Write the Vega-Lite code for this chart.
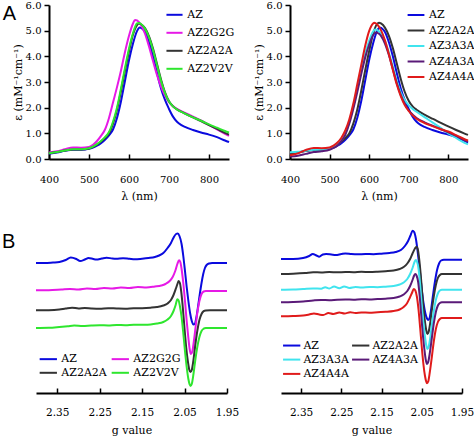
{
  "$schema": "https://vega.github.io/schema/vega-lite/v6.json",
  "padding": {"left": -17, "top": 0, "right": 0, "bottom": 0},
  "background": "white",
  "spacing": 23,
  "config": {
    "view": {"stroke": null},
    "font": "DejaVu Serif",
    "line": {"strokeWidth": 2, "interpolate": "monotone"},
    "axis": {"domainColor": "#000", "domainWidth": 2, "tickColor": "#000", "tickWidth": 1.5, "labelColor": "#000", "titleColor": "#000", "labelFont": "DejaVu Serif", "titleFont": "DejaVu Serif", "labelFontSize": 10, "titleFontSize": 11, "titleFontWeight": "normal", "grid": false, "labelFlush": false},
    "axisX": {"tickSize": -5, "labelPadding": 20.3, "titlePadding": 6.5},
    "axisY": {"tickSize": 5, "labelPadding": 3, "titlePadding": 2},
    "legend": {"title": null, "padding": 0, "labelFont": "DejaVu Serif", "labelFontSize": 11, "labelColor": "#000", "symbolStrokeWidth": 2.5, "symbolSize": 49, "orient": "none"}
  },
  "resolve": {"scale": {"color": "independent"}, "legend": {"color": "independent"}},
  "datasets": {
    "uvA": [
      {"series":"AZ","nm":400,"eps":0.2},{"series":"AZ","nm":420,"eps":0.25},{"series":"AZ","nm":440,"eps":0.32},{"series":"AZ","nm":460,"eps":0.36},{"series":"AZ","nm":480,"eps":0.36},{"series":"AZ","nm":500,"eps":0.4},{"series":"AZ","nm":510,"eps":0.45},{"series":"AZ","nm":520,"eps":0.52},{"series":"AZ","nm":530,"eps":0.62},{"series":"AZ","nm":540,"eps":0.75},{"series":"AZ","nm":550,"eps":0.92},{"series":"AZ","nm":560,"eps":1.15},{"series":"AZ","nm":570,"eps":1.6},{"series":"AZ","nm":580,"eps":2.25},{"series":"AZ","nm":590,"eps":3.05},{"series":"AZ","nm":600,"eps":3.85},{"series":"AZ","nm":610,"eps":4.5},{"series":"AZ","nm":620,"eps":4.98},{"series":"AZ","nm":627,"eps":5.12},{"series":"AZ","nm":635,"eps":5.05},{"series":"AZ","nm":640,"eps":4.95},{"series":"AZ","nm":650,"eps":4.55},{"series":"AZ","nm":660,"eps":4.0},{"series":"AZ","nm":670,"eps":3.35},{"series":"AZ","nm":680,"eps":2.75},{"series":"AZ","nm":690,"eps":2.3},{"series":"AZ","nm":700,"eps":1.95},{"series":"AZ","nm":710,"eps":1.65},{"series":"AZ","nm":720,"eps":1.45},{"series":"AZ","nm":730,"eps":1.33},{"series":"AZ","nm":740,"eps":1.25},{"series":"AZ","nm":760,"eps":1.13},{"series":"AZ","nm":780,"eps":1.03},{"series":"AZ","nm":800,"eps":0.95},{"series":"AZ","nm":820,"eps":0.85},{"series":"AZ","nm":840,"eps":0.72},{"series":"AZ","nm":850,"eps":0.66},
      {"series":"AZ2G2G","nm":400,"eps":0.25},{"series":"AZ2G2G","nm":420,"eps":0.3},{"series":"AZ2G2G","nm":440,"eps":0.38},{"series":"AZ2G2G","nm":460,"eps":0.45},{"series":"AZ2G2G","nm":480,"eps":0.44},{"series":"AZ2G2G","nm":500,"eps":0.47},{"series":"AZ2G2G","nm":510,"eps":0.55},{"series":"AZ2G2G","nm":520,"eps":0.7},{"series":"AZ2G2G","nm":530,"eps":0.9},{"series":"AZ2G2G","nm":540,"eps":1.15},{"series":"AZ2G2G","nm":550,"eps":1.6},{"series":"AZ2G2G","nm":560,"eps":2.2},{"series":"AZ2G2G","nm":570,"eps":2.8},{"series":"AZ2G2G","nm":580,"eps":3.45},{"series":"AZ2G2G","nm":590,"eps":4.17},{"series":"AZ2G2G","nm":600,"eps":4.8},{"series":"AZ2G2G","nm":610,"eps":5.28},{"series":"AZ2G2G","nm":615,"eps":5.42},{"series":"AZ2G2G","nm":620,"eps":5.4},{"series":"AZ2G2G","nm":630,"eps":5.22},{"series":"AZ2G2G","nm":640,"eps":4.88},{"series":"AZ2G2G","nm":650,"eps":4.38},{"series":"AZ2G2G","nm":660,"eps":3.82},{"series":"AZ2G2G","nm":670,"eps":3.27},{"series":"AZ2G2G","nm":680,"eps":2.82},{"series":"AZ2G2G","nm":690,"eps":2.47},{"series":"AZ2G2G","nm":700,"eps":2.22},{"series":"AZ2G2G","nm":710,"eps":2.06},{"series":"AZ2G2G","nm":720,"eps":1.95},{"series":"AZ2G2G","nm":740,"eps":1.8},{"series":"AZ2G2G","nm":760,"eps":1.65},{"series":"AZ2G2G","nm":780,"eps":1.5},{"series":"AZ2G2G","nm":800,"eps":1.33},{"series":"AZ2G2G","nm":820,"eps":1.15},{"series":"AZ2G2G","nm":840,"eps":0.98},{"series":"AZ2G2G","nm":850,"eps":0.9},
      {"series":"AZ2A2A","nm":400,"eps":0.22},{"series":"AZ2A2A","nm":420,"eps":0.27},{"series":"AZ2A2A","nm":440,"eps":0.33},{"series":"AZ2A2A","nm":460,"eps":0.37},{"series":"AZ2A2A","nm":480,"eps":0.37},{"series":"AZ2A2A","nm":500,"eps":0.41},{"series":"AZ2A2A","nm":510,"eps":0.47},{"series":"AZ2A2A","nm":520,"eps":0.56},{"series":"AZ2A2A","nm":530,"eps":0.68},{"series":"AZ2A2A","nm":540,"eps":0.82},{"series":"AZ2A2A","nm":550,"eps":1.0},{"series":"AZ2A2A","nm":560,"eps":1.38},{"series":"AZ2A2A","nm":570,"eps":1.92},{"series":"AZ2A2A","nm":580,"eps":2.65},{"series":"AZ2A2A","nm":590,"eps":3.45},{"series":"AZ2A2A","nm":600,"eps":4.2},{"series":"AZ2A2A","nm":610,"eps":4.85},{"series":"AZ2A2A","nm":620,"eps":5.22},{"series":"AZ2A2A","nm":625,"eps":5.28},{"series":"AZ2A2A","nm":630,"eps":5.25},{"series":"AZ2A2A","nm":640,"eps":5.1},{"series":"AZ2A2A","nm":650,"eps":4.78},{"series":"AZ2A2A","nm":660,"eps":4.3},{"series":"AZ2A2A","nm":670,"eps":3.7},{"series":"AZ2A2A","nm":680,"eps":3.1},{"series":"AZ2A2A","nm":690,"eps":2.6},{"series":"AZ2A2A","nm":700,"eps":2.25},{"series":"AZ2A2A","nm":710,"eps":2.05},{"series":"AZ2A2A","nm":720,"eps":1.93},{"series":"AZ2A2A","nm":740,"eps":1.77},{"series":"AZ2A2A","nm":760,"eps":1.62},{"series":"AZ2A2A","nm":780,"eps":1.48},{"series":"AZ2A2A","nm":800,"eps":1.32},{"series":"AZ2A2A","nm":820,"eps":1.17},{"series":"AZ2A2A","nm":840,"eps":1.02},{"series":"AZ2A2A","nm":850,"eps":0.95},
      {"series":"AZ2V2V","nm":400,"eps":0.22},{"series":"AZ2V2V","nm":420,"eps":0.27},{"series":"AZ2V2V","nm":440,"eps":0.33},{"series":"AZ2V2V","nm":460,"eps":0.38},{"series":"AZ2V2V","nm":480,"eps":0.38},{"series":"AZ2V2V","nm":500,"eps":0.42},{"series":"AZ2V2V","nm":510,"eps":0.48},{"series":"AZ2V2V","nm":520,"eps":0.58},{"series":"AZ2V2V","nm":530,"eps":0.7},{"series":"AZ2V2V","nm":540,"eps":0.85},{"series":"AZ2V2V","nm":550,"eps":1.05},{"series":"AZ2V2V","nm":560,"eps":1.45},{"series":"AZ2V2V","nm":570,"eps":2.0},{"series":"AZ2V2V","nm":580,"eps":2.75},{"series":"AZ2V2V","nm":590,"eps":3.55},{"series":"AZ2V2V","nm":600,"eps":4.3},{"series":"AZ2V2V","nm":610,"eps":4.9},{"series":"AZ2V2V","nm":620,"eps":5.28},{"series":"AZ2V2V","nm":625,"eps":5.3},{"series":"AZ2V2V","nm":630,"eps":5.26},{"series":"AZ2V2V","nm":640,"eps":5.08},{"series":"AZ2V2V","nm":650,"eps":4.74},{"series":"AZ2V2V","nm":660,"eps":4.25},{"series":"AZ2V2V","nm":670,"eps":3.65},{"series":"AZ2V2V","nm":680,"eps":3.05},{"series":"AZ2V2V","nm":690,"eps":2.57},{"series":"AZ2V2V","nm":700,"eps":2.24},{"series":"AZ2V2V","nm":710,"eps":2.05},{"series":"AZ2V2V","nm":720,"eps":1.93},{"series":"AZ2V2V","nm":740,"eps":1.77},{"series":"AZ2V2V","nm":760,"eps":1.62},{"series":"AZ2V2V","nm":780,"eps":1.49},{"series":"AZ2V2V","nm":800,"eps":1.35},{"series":"AZ2V2V","nm":820,"eps":1.22},{"series":"AZ2V2V","nm":840,"eps":1.09},{"series":"AZ2V2V","nm":850,"eps":1.03}
    ],
    "uvB": [
      {"series":"AZ","nm":400,"eps":0.2},{"series":"AZ","nm":420,"eps":0.25},{"series":"AZ","nm":440,"eps":0.32},{"series":"AZ","nm":460,"eps":0.36},{"series":"AZ","nm":480,"eps":0.36},{"series":"AZ","nm":500,"eps":0.4},{"series":"AZ","nm":510,"eps":0.45},{"series":"AZ","nm":520,"eps":0.52},{"series":"AZ","nm":530,"eps":0.62},{"series":"AZ","nm":540,"eps":0.75},{"series":"AZ","nm":550,"eps":0.92},{"series":"AZ","nm":560,"eps":1.15},{"series":"AZ","nm":570,"eps":1.6},{"series":"AZ","nm":580,"eps":2.25},{"series":"AZ","nm":590,"eps":3.05},{"series":"AZ","nm":600,"eps":3.85},{"series":"AZ","nm":610,"eps":4.5},{"series":"AZ","nm":620,"eps":4.98},{"series":"AZ","nm":627,"eps":5.12},{"series":"AZ","nm":635,"eps":5.05},{"series":"AZ","nm":640,"eps":4.95},{"series":"AZ","nm":650,"eps":4.55},{"series":"AZ","nm":660,"eps":4.0},{"series":"AZ","nm":670,"eps":3.35},{"series":"AZ","nm":680,"eps":2.75},{"series":"AZ","nm":690,"eps":2.3},{"series":"AZ","nm":700,"eps":1.95},{"series":"AZ","nm":710,"eps":1.65},{"series":"AZ","nm":720,"eps":1.45},{"series":"AZ","nm":730,"eps":1.33},{"series":"AZ","nm":740,"eps":1.25},{"series":"AZ","nm":760,"eps":1.13},{"series":"AZ","nm":780,"eps":1.03},{"series":"AZ","nm":800,"eps":0.95},{"series":"AZ","nm":820,"eps":0.85},{"series":"AZ","nm":840,"eps":0.72},{"series":"AZ","nm":850,"eps":0.64},
      {"series":"AZ2A2A","nm":400,"eps":0.2},{"series":"AZ2A2A","nm":420,"eps":0.25},{"series":"AZ2A2A","nm":440,"eps":0.31},{"series":"AZ2A2A","nm":460,"eps":0.35},{"series":"AZ2A2A","nm":480,"eps":0.36},{"series":"AZ2A2A","nm":500,"eps":0.41},{"series":"AZ2A2A","nm":510,"eps":0.47},{"series":"AZ2A2A","nm":520,"eps":0.56},{"series":"AZ2A2A","nm":530,"eps":0.68},{"series":"AZ2A2A","nm":540,"eps":0.82},{"series":"AZ2A2A","nm":550,"eps":1.0},{"series":"AZ2A2A","nm":560,"eps":1.38},{"series":"AZ2A2A","nm":570,"eps":1.92},{"series":"AZ2A2A","nm":580,"eps":2.65},{"series":"AZ2A2A","nm":590,"eps":3.45},{"series":"AZ2A2A","nm":600,"eps":4.2},{"series":"AZ2A2A","nm":610,"eps":4.87},{"series":"AZ2A2A","nm":620,"eps":5.26},{"series":"AZ2A2A","nm":625,"eps":5.31},{"series":"AZ2A2A","nm":630,"eps":5.28},{"series":"AZ2A2A","nm":640,"eps":5.12},{"series":"AZ2A2A","nm":650,"eps":4.8},{"series":"AZ2A2A","nm":660,"eps":4.32},{"series":"AZ2A2A","nm":670,"eps":3.72},{"series":"AZ2A2A","nm":680,"eps":3.12},{"series":"AZ2A2A","nm":690,"eps":2.62},{"series":"AZ2A2A","nm":700,"eps":2.27},{"series":"AZ2A2A","nm":710,"eps":2.05},{"series":"AZ2A2A","nm":720,"eps":1.92},{"series":"AZ2A2A","nm":740,"eps":1.73},{"series":"AZ2A2A","nm":760,"eps":1.57},{"series":"AZ2A2A","nm":780,"eps":1.42},{"series":"AZ2A2A","nm":800,"eps":1.27},{"series":"AZ2A2A","nm":820,"eps":1.13},{"series":"AZ2A2A","nm":840,"eps":1.0},{"series":"AZ2A2A","nm":850,"eps":0.94},
      {"series":"AZ3A3A","nm":400,"eps":0.26},{"series":"AZ3A3A","nm":420,"eps":0.28},{"series":"AZ3A3A","nm":440,"eps":0.32},{"series":"AZ3A3A","nm":460,"eps":0.36},{"series":"AZ3A3A","nm":480,"eps":0.36},{"series":"AZ3A3A","nm":500,"eps":0.4},{"series":"AZ3A3A","nm":510,"eps":0.46},{"series":"AZ3A3A","nm":520,"eps":0.56},{"series":"AZ3A3A","nm":530,"eps":0.72},{"series":"AZ3A3A","nm":540,"eps":0.98},{"series":"AZ3A3A","nm":550,"eps":1.45},{"series":"AZ3A3A","nm":560,"eps":2.05},{"series":"AZ3A3A","nm":570,"eps":2.75},{"series":"AZ3A3A","nm":580,"eps":3.45},{"series":"AZ3A3A","nm":590,"eps":4.1},{"series":"AZ3A3A","nm":600,"eps":4.6},{"series":"AZ3A3A","nm":610,"eps":4.97},{"series":"AZ3A3A","nm":615,"eps":5.05},{"series":"AZ3A3A","nm":620,"eps":5.03},{"series":"AZ3A3A","nm":630,"eps":4.88},{"series":"AZ3A3A","nm":640,"eps":4.6},{"series":"AZ3A3A","nm":650,"eps":4.15},{"series":"AZ3A3A","nm":660,"eps":3.6},{"series":"AZ3A3A","nm":670,"eps":3.05},{"series":"AZ3A3A","nm":680,"eps":2.6},{"series":"AZ3A3A","nm":690,"eps":2.3},{"series":"AZ3A3A","nm":700,"eps":2.1},{"series":"AZ3A3A","nm":710,"eps":1.95},{"series":"AZ3A3A","nm":720,"eps":1.84},{"series":"AZ3A3A","nm":740,"eps":1.63},{"series":"AZ3A3A","nm":760,"eps":1.43},{"series":"AZ3A3A","nm":780,"eps":1.22},{"series":"AZ3A3A","nm":800,"eps":1.0},{"series":"AZ3A3A","nm":820,"eps":0.82},{"series":"AZ3A3A","nm":840,"eps":0.64},{"series":"AZ3A3A","nm":850,"eps":0.57},
      {"series":"AZ4A3A","nm":400,"eps":0.1},{"series":"AZ4A3A","nm":420,"eps":0.13},{"series":"AZ4A3A","nm":440,"eps":0.2},{"series":"AZ4A3A","nm":460,"eps":0.27},{"series":"AZ4A3A","nm":480,"eps":0.3},{"series":"AZ4A3A","nm":500,"eps":0.36},{"series":"AZ4A3A","nm":510,"eps":0.43},{"series":"AZ4A3A","nm":520,"eps":0.53},{"series":"AZ4A3A","nm":530,"eps":0.7},{"series":"AZ4A3A","nm":540,"eps":0.95},{"series":"AZ4A3A","nm":550,"eps":1.38},{"series":"AZ4A3A","nm":560,"eps":1.95},{"series":"AZ4A3A","nm":570,"eps":2.6},{"series":"AZ4A3A","nm":580,"eps":3.3},{"series":"AZ4A3A","nm":590,"eps":3.95},{"series":"AZ4A3A","nm":600,"eps":4.45},{"series":"AZ4A3A","nm":610,"eps":4.82},{"series":"AZ4A3A","nm":617,"eps":4.93},{"series":"AZ4A3A","nm":625,"eps":4.88},{"series":"AZ4A3A","nm":630,"eps":4.8},{"series":"AZ4A3A","nm":640,"eps":4.5},{"series":"AZ4A3A","nm":650,"eps":4.05},{"series":"AZ4A3A","nm":660,"eps":3.5},{"series":"AZ4A3A","nm":670,"eps":2.95},{"series":"AZ4A3A","nm":680,"eps":2.5},{"series":"AZ4A3A","nm":690,"eps":2.15},{"series":"AZ4A3A","nm":700,"eps":1.9},{"series":"AZ4A3A","nm":710,"eps":1.73},{"series":"AZ4A3A","nm":720,"eps":1.6},{"series":"AZ4A3A","nm":740,"eps":1.43},{"series":"AZ4A3A","nm":760,"eps":1.3},{"series":"AZ4A3A","nm":780,"eps":1.17},{"series":"AZ4A3A","nm":800,"eps":1.04},{"series":"AZ4A3A","nm":820,"eps":0.9},{"series":"AZ4A3A","nm":840,"eps":0.75},{"series":"AZ4A3A","nm":850,"eps":0.68},
      {"series":"AZ4A4A","nm":400,"eps":0.15},{"series":"AZ4A4A","nm":420,"eps":0.22},{"series":"AZ4A4A","nm":440,"eps":0.35},{"series":"AZ4A4A","nm":460,"eps":0.43},{"series":"AZ4A4A","nm":480,"eps":0.42},{"series":"AZ4A4A","nm":500,"eps":0.45},{"series":"AZ4A4A","nm":510,"eps":0.52},{"series":"AZ4A4A","nm":520,"eps":0.64},{"series":"AZ4A4A","nm":530,"eps":0.83},{"series":"AZ4A4A","nm":540,"eps":1.12},{"series":"AZ4A4A","nm":550,"eps":1.55},{"series":"AZ4A4A","nm":560,"eps":2.15},{"series":"AZ4A4A","nm":570,"eps":2.9},{"series":"AZ4A4A","nm":580,"eps":3.65},{"series":"AZ4A4A","nm":590,"eps":4.4},{"series":"AZ4A4A","nm":600,"eps":4.98},{"series":"AZ4A4A","nm":610,"eps":5.28},{"series":"AZ4A4A","nm":613,"eps":5.31},{"series":"AZ4A4A","nm":620,"eps":5.25},{"series":"AZ4A4A","nm":630,"eps":5.02},{"series":"AZ4A4A","nm":640,"eps":4.62},{"series":"AZ4A4A","nm":650,"eps":4.08},{"series":"AZ4A4A","nm":660,"eps":3.48},{"series":"AZ4A4A","nm":670,"eps":2.9},{"series":"AZ4A4A","nm":680,"eps":2.45},{"series":"AZ4A4A","nm":690,"eps":2.1},{"series":"AZ4A4A","nm":700,"eps":1.87},{"series":"AZ4A4A","nm":710,"eps":1.7},{"series":"AZ4A4A","nm":720,"eps":1.57},{"series":"AZ4A4A","nm":740,"eps":1.4},{"series":"AZ4A4A","nm":760,"eps":1.28},{"series":"AZ4A4A","nm":780,"eps":1.17},{"series":"AZ4A4A","nm":800,"eps":1.07},{"series":"AZ4A4A","nm":820,"eps":0.93},{"series":"AZ4A4A","nm":840,"eps":0.78},{"series":"AZ4A4A","nm":850,"eps":0.72}
    ],
    "eprA": [
      {"series":"AZ","g":2.4,"h":130},{"series":"AZ","g":2.38,"h":130},{"series":"AZ","g":2.36,"h":130.5},{"series":"AZ","g":2.345,"h":131},{"series":"AZ","g":2.33,"h":133},{"series":"AZ","g":2.318,"h":135.5},{"series":"AZ","g":2.305,"h":134},{"series":"AZ","g":2.296,"h":132},{"series":"AZ","g":2.285,"h":133.5},{"series":"AZ","g":2.276,"h":135},{"series":"AZ","g":2.265,"h":134},{"series":"AZ","g":2.258,"h":133.5},{"series":"AZ","g":2.245,"h":134.5},{"series":"AZ","g":2.234,"h":135.3},{"series":"AZ","g":2.22,"h":134.5},{"series":"AZ","g":2.211,"h":134.3},{"series":"AZ","g":2.195,"h":134.8},{"series":"AZ","g":2.18,"h":134.2},{"series":"AZ","g":2.167,"h":133.7},{"series":"AZ","g":2.15,"h":134.3},{"series":"AZ","g":2.135,"h":135},{"series":"AZ","g":2.12,"h":136},{"series":"AZ","g":2.11,"h":137.5},{"series":"AZ","g":2.1,"h":140},{"series":"AZ","g":2.09,"h":145},{"series":"AZ","g":2.082,"h":150},{"series":"AZ","g":2.076,"h":155.3},{"series":"AZ","g":2.07,"h":159},{"series":"AZ","g":2.066,"h":159.5},{"series":"AZ","g":2.062,"h":157},{"series":"AZ","g":2.057,"h":149},{"series":"AZ","g":2.053,"h":137},{"series":"AZ","g":2.049,"h":122},{"series":"AZ","g":2.045,"h":106},{"series":"AZ","g":2.041,"h":92},{"series":"AZ","g":2.037,"h":80},{"series":"AZ","g":2.033,"h":72},{"series":"AZ","g":2.029,"h":68.5},{"series":"AZ","g":2.026,"h":69},{"series":"AZ","g":2.022,"h":76},{"series":"AZ","g":2.018,"h":87},{"series":"AZ","g":2.014,"h":99},{"series":"AZ","g":2.01,"h":110},{"series":"AZ","g":2.006,"h":119},{"series":"AZ","g":2.002,"h":125},{"series":"AZ","g":1.998,"h":128},{"series":"AZ","g":1.992,"h":129.5},{"series":"AZ","g":1.985,"h":130},{"series":"AZ","g":1.97,"h":130},{"series":"AZ","g":1.95,"h":130},
      {"series":"AZ2G2G","g":2.4,"h":102.7},{"series":"AZ2G2G","g":2.37,"h":102.8},{"series":"AZ2G2G","g":2.34,"h":103.5},{"series":"AZ2G2G","g":2.32,"h":104},{"series":"AZ2G2G","g":2.3,"h":103.5},{"series":"AZ2G2G","g":2.28,"h":104.5},{"series":"AZ2G2G","g":2.26,"h":104},{"series":"AZ2G2G","g":2.24,"h":105},{"series":"AZ2G2G","g":2.22,"h":104.5},{"series":"AZ2G2G","g":2.2,"h":105.5},{"series":"AZ2G2G","g":2.18,"h":105},{"series":"AZ2G2G","g":2.16,"h":106},{"series":"AZ2G2G","g":2.14,"h":105.5},{"series":"AZ2G2G","g":2.12,"h":106.5},{"series":"AZ2G2G","g":2.105,"h":107.5},{"series":"AZ2G2G","g":2.095,"h":109},{"series":"AZ2G2G","g":2.085,"h":112},{"series":"AZ2G2G","g":2.078,"h":116},{"series":"AZ2G2G","g":2.072,"h":122},{"series":"AZ2G2G","g":2.067,"h":129},{"series":"AZ2G2G","g":2.063,"h":132.7},{"series":"AZ2G2G","g":2.06,"h":131},{"series":"AZ2G2G","g":2.057,"h":124},{"series":"AZ2G2G","g":2.053,"h":110},{"series":"AZ2G2G","g":2.049,"h":92},{"series":"AZ2G2G","g":2.045,"h":72},{"series":"AZ2G2G","g":2.041,"h":55},{"series":"AZ2G2G","g":2.038,"h":44},{"series":"AZ2G2G","g":2.035,"h":39},{"series":"AZ2G2G","g":2.032,"h":41},{"series":"AZ2G2G","g":2.028,"h":52},{"series":"AZ2G2G","g":2.024,"h":66},{"series":"AZ2G2G","g":2.02,"h":80},{"series":"AZ2G2G","g":2.015,"h":92},{"series":"AZ2G2G","g":2.01,"h":99},{"series":"AZ2G2G","g":2.005,"h":101.5},{"series":"AZ2G2G","g":2.0,"h":102},{"series":"AZ2G2G","g":1.99,"h":102},{"series":"AZ2G2G","g":1.95,"h":102},
      {"series":"AZ2A2A","g":2.4,"h":82.7},{"series":"AZ2A2A","g":2.37,"h":82.8},{"series":"AZ2A2A","g":2.345,"h":83.5},{"series":"AZ2A2A","g":2.33,"h":84.5},{"series":"AZ2A2A","g":2.315,"h":85.3},{"series":"AZ2A2A","g":2.3,"h":84.5},{"series":"AZ2A2A","g":2.285,"h":85},{"series":"AZ2A2A","g":2.27,"h":84.6},{"series":"AZ2A2A","g":2.25,"h":84.3},{"series":"AZ2A2A","g":2.23,"h":84.8},{"series":"AZ2A2A","g":2.21,"h":84.5},{"series":"AZ2A2A","g":2.19,"h":84.3},{"series":"AZ2A2A","g":2.17,"h":84.7},{"series":"AZ2A2A","g":2.15,"h":84.8},{"series":"AZ2A2A","g":2.13,"h":85.3},{"series":"AZ2A2A","g":2.115,"h":86},{"series":"AZ2A2A","g":2.1,"h":87.5},{"series":"AZ2A2A","g":2.09,"h":89.5},{"series":"AZ2A2A","g":2.082,"h":93},{"series":"AZ2A2A","g":2.076,"h":98},{"series":"AZ2A2A","g":2.07,"h":105},{"series":"AZ2A2A","g":2.066,"h":110},{"series":"AZ2A2A","g":2.064,"h":112},{"series":"AZ2A2A","g":2.061,"h":110},{"series":"AZ2A2A","g":2.058,"h":102},{"series":"AZ2A2A","g":2.054,"h":85},{"series":"AZ2A2A","g":2.05,"h":64},{"series":"AZ2A2A","g":2.046,"h":45},{"series":"AZ2A2A","g":2.042,"h":31},{"series":"AZ2A2A","g":2.039,"h":23.5},{"series":"AZ2A2A","g":2.036,"h":21},{"series":"AZ2A2A","g":2.033,"h":23},{"series":"AZ2A2A","g":2.029,"h":33},{"series":"AZ2A2A","g":2.025,"h":47},{"series":"AZ2A2A","g":2.02,"h":62},{"series":"AZ2A2A","g":2.015,"h":73},{"series":"AZ2A2A","g":2.01,"h":79},{"series":"AZ2A2A","g":2.005,"h":81.8},{"series":"AZ2A2A","g":2.0,"h":82.5},{"series":"AZ2A2A","g":1.99,"h":82.7},{"series":"AZ2A2A","g":1.95,"h":82.7},
      {"series":"AZ2V2V","g":2.4,"h":65},{"series":"AZ2V2V","g":2.37,"h":65.2},{"series":"AZ2V2V","g":2.345,"h":66},{"series":"AZ2V2V","g":2.325,"h":66.8},{"series":"AZ2V2V","g":2.31,"h":67.5},{"series":"AZ2V2V","g":2.29,"h":67},{"series":"AZ2V2V","g":2.27,"h":67.5},{"series":"AZ2V2V","g":2.25,"h":67.8},{"series":"AZ2V2V","g":2.23,"h":67.6},{"series":"AZ2V2V","g":2.21,"h":68},{"series":"AZ2V2V","g":2.19,"h":67.8},{"series":"AZ2V2V","g":2.17,"h":68.2},{"series":"AZ2V2V","g":2.15,"h":68.3},{"series":"AZ2V2V","g":2.13,"h":68.6},{"series":"AZ2V2V","g":2.115,"h":69.5},{"series":"AZ2V2V","g":2.1,"h":71},{"series":"AZ2V2V","g":2.09,"h":73.5},{"series":"AZ2V2V","g":2.082,"h":77},{"series":"AZ2V2V","g":2.076,"h":82},{"series":"AZ2V2V","g":2.071,"h":88},{"series":"AZ2V2V","g":2.067,"h":93.7},{"series":"AZ2V2V","g":2.064,"h":92.5},{"series":"AZ2V2V","g":2.061,"h":87},{"series":"AZ2V2V","g":2.057,"h":76},{"series":"AZ2V2V","g":2.053,"h":60},{"series":"AZ2V2V","g":2.049,"h":42},{"series":"AZ2V2V","g":2.045,"h":26},{"series":"AZ2V2V","g":2.041,"h":14},{"series":"AZ2V2V","g":2.038,"h":8.5},{"series":"AZ2V2V","g":2.036,"h":7},{"series":"AZ2V2V","g":2.033,"h":9},{"series":"AZ2V2V","g":2.029,"h":19},{"series":"AZ2V2V","g":2.025,"h":32},{"series":"AZ2V2V","g":2.02,"h":46},{"series":"AZ2V2V","g":2.015,"h":56},{"series":"AZ2V2V","g":2.01,"h":62},{"series":"AZ2V2V","g":2.005,"h":64.3},{"series":"AZ2V2V","g":2.0,"h":65},{"series":"AZ2V2V","g":1.99,"h":65},{"series":"AZ2V2V","g":1.95,"h":65}
    ],
    "eprB": [
      {"series":"AZ","g":2.4,"h":134},{"series":"AZ","g":2.37,"h":134},{"series":"AZ","g":2.345,"h":135},{"series":"AZ","g":2.33,"h":137},{"series":"AZ","g":2.321,"h":139},{"series":"AZ","g":2.312,"h":137.5},{"series":"AZ","g":2.305,"h":136.3},{"series":"AZ","g":2.296,"h":138.5},{"series":"AZ","g":2.288,"h":139},{"series":"AZ","g":2.275,"h":138.5},{"series":"AZ","g":2.264,"h":138},{"series":"AZ","g":2.25,"h":139},{"series":"AZ","g":2.24,"h":139.6},{"series":"AZ","g":2.225,"h":139},{"series":"AZ","g":2.21,"h":138.7},{"series":"AZ","g":2.19,"h":139},{"series":"AZ","g":2.17,"h":138.8},{"series":"AZ","g":2.15,"h":139.3},{"series":"AZ","g":2.13,"h":140},{"series":"AZ","g":2.115,"h":141},{"series":"AZ","g":2.102,"h":143},{"series":"AZ","g":2.092,"h":147},{"series":"AZ","g":2.084,"h":152},{"series":"AZ","g":2.078,"h":157.5},{"series":"AZ","g":2.073,"h":162.3},{"series":"AZ","g":2.069,"h":161},{"series":"AZ","g":2.065,"h":155},{"series":"AZ","g":2.061,"h":144},{"series":"AZ","g":2.057,"h":130},{"series":"AZ","g":2.053,"h":115},{"series":"AZ","g":2.049,"h":100},{"series":"AZ","g":2.045,"h":88},{"series":"AZ","g":2.041,"h":79.5},{"series":"AZ","g":2.037,"h":74.5},{"series":"AZ","g":2.034,"h":73},{"series":"AZ","g":2.031,"h":74.5},{"series":"AZ","g":2.027,"h":83},{"series":"AZ","g":2.022,"h":98},{"series":"AZ","g":2.017,"h":112},{"series":"AZ","g":2.012,"h":123},{"series":"AZ","g":2.007,"h":129.5},{"series":"AZ","g":2.002,"h":132.5},{"series":"AZ","g":1.995,"h":133.3},{"series":"AZ","g":1.95,"h":133.3},
      {"series":"AZ2A2A","g":2.4,"h":119},{"series":"AZ2A2A","g":2.37,"h":119.3},{"series":"AZ2A2A","g":2.34,"h":120},{"series":"AZ2A2A","g":2.32,"h":120.8},{"series":"AZ2A2A","g":2.3,"h":120.5},{"series":"AZ2A2A","g":2.28,"h":121},{"series":"AZ2A2A","g":2.26,"h":120.7},{"series":"AZ2A2A","g":2.24,"h":121},{"series":"AZ2A2A","g":2.22,"h":120.8},{"series":"AZ2A2A","g":2.2,"h":121.2},{"series":"AZ2A2A","g":2.18,"h":121},{"series":"AZ2A2A","g":2.16,"h":121.3},{"series":"AZ2A2A","g":2.14,"h":121.8},{"series":"AZ2A2A","g":2.12,"h":122.5},{"series":"AZ2A2A","g":2.105,"h":124},{"series":"AZ2A2A","g":2.095,"h":126},{"series":"AZ2A2A","g":2.086,"h":129.5},{"series":"AZ2A2A","g":2.079,"h":134},{"series":"AZ2A2A","g":2.073,"h":139.5},{"series":"AZ2A2A","g":2.067,"h":144.5},{"series":"AZ2A2A","g":2.063,"h":146.3},{"series":"AZ2A2A","g":2.06,"h":144},{"series":"AZ2A2A","g":2.057,"h":136},{"series":"AZ2A2A","g":2.053,"h":120},{"series":"AZ2A2A","g":2.049,"h":100},{"series":"AZ2A2A","g":2.045,"h":82},{"series":"AZ2A2A","g":2.041,"h":68},{"series":"AZ2A2A","g":2.038,"h":61},{"series":"AZ2A2A","g":2.036,"h":59},{"series":"AZ2A2A","g":2.033,"h":61},{"series":"AZ2A2A","g":2.029,"h":70},{"series":"AZ2A2A","g":2.025,"h":83},{"series":"AZ2A2A","g":2.02,"h":97},{"series":"AZ2A2A","g":2.015,"h":108},{"series":"AZ2A2A","g":2.01,"h":115},{"series":"AZ2A2A","g":2.005,"h":118},{"series":"AZ2A2A","g":2.0,"h":119},{"series":"AZ2A2A","g":1.95,"h":119},
      {"series":"AZ3A3A","g":2.4,"h":103.3},{"series":"AZ3A3A","g":2.37,"h":103.5},{"series":"AZ3A3A","g":2.345,"h":104},{"series":"AZ3A3A","g":2.32,"h":104.5},{"series":"AZ3A3A","g":2.3,"h":104.3},{"series":"AZ3A3A","g":2.29,"h":105.8},{"series":"AZ3A3A","g":2.28,"h":104.5},{"series":"AZ3A3A","g":2.268,"h":106.5},{"series":"AZ3A3A","g":2.255,"h":104.8},{"series":"AZ3A3A","g":2.243,"h":106.6},{"series":"AZ3A3A","g":2.23,"h":105},{"series":"AZ3A3A","g":2.215,"h":106},{"series":"AZ3A3A","g":2.2,"h":105.5},{"series":"AZ3A3A","g":2.18,"h":106},{"series":"AZ3A3A","g":2.16,"h":105.8},{"series":"AZ3A3A","g":2.14,"h":106.3},{"series":"AZ3A3A","g":2.12,"h":107},{"series":"AZ3A3A","g":2.105,"h":108.5},{"series":"AZ3A3A","g":2.095,"h":110.5},{"series":"AZ3A3A","g":2.086,"h":114},{"series":"AZ3A3A","g":2.079,"h":119},{"series":"AZ3A3A","g":2.073,"h":125},{"series":"AZ3A3A","g":2.068,"h":131},{"series":"AZ3A3A","g":2.065,"h":133},{"series":"AZ3A3A","g":2.062,"h":131.5},{"series":"AZ3A3A","g":2.058,"h":124},{"series":"AZ3A3A","g":2.054,"h":108},{"series":"AZ3A3A","g":2.05,"h":88},{"series":"AZ3A3A","g":2.046,"h":70},{"series":"AZ3A3A","g":2.042,"h":56},{"series":"AZ3A3A","g":2.039,"h":48},{"series":"AZ3A3A","g":2.036,"h":44},{"series":"AZ3A3A","g":2.033,"h":46},{"series":"AZ3A3A","g":2.029,"h":55},{"series":"AZ3A3A","g":2.025,"h":68},{"series":"AZ3A3A","g":2.02,"h":82},{"series":"AZ3A3A","g":2.015,"h":93},{"series":"AZ3A3A","g":2.01,"h":99.5},{"series":"AZ3A3A","g":2.005,"h":102.5},{"series":"AZ3A3A","g":2.0,"h":103.3},{"series":"AZ3A3A","g":1.95,"h":103.3},
      {"series":"AZ4A3A","g":2.4,"h":90.7},{"series":"AZ4A3A","g":2.37,"h":91},{"series":"AZ4A3A","g":2.345,"h":91.5},{"series":"AZ4A3A","g":2.32,"h":92.5},{"series":"AZ4A3A","g":2.3,"h":93},{"series":"AZ4A3A","g":2.28,"h":92.8},{"series":"AZ4A3A","g":2.26,"h":93.3},{"series":"AZ4A3A","g":2.24,"h":93.5},{"series":"AZ4A3A","g":2.22,"h":93.3},{"series":"AZ4A3A","g":2.2,"h":93.8},{"series":"AZ4A3A","g":2.18,"h":93.6},{"series":"AZ4A3A","g":2.16,"h":94},{"series":"AZ4A3A","g":2.14,"h":94.3},{"series":"AZ4A3A","g":2.12,"h":95},{"series":"AZ4A3A","g":2.105,"h":96.5},{"series":"AZ4A3A","g":2.095,"h":98.5},{"series":"AZ4A3A","g":2.086,"h":102},{"series":"AZ4A3A","g":2.079,"h":107},{"series":"AZ4A3A","g":2.073,"h":113},{"series":"AZ4A3A","g":2.069,"h":117.5},{"series":"AZ4A3A","g":2.066,"h":119},{"series":"AZ4A3A","g":2.063,"h":117.5},{"series":"AZ4A3A","g":2.059,"h":111},{"series":"AZ4A3A","g":2.055,"h":96},{"series":"AZ4A3A","g":2.051,"h":76},{"series":"AZ4A3A","g":2.047,"h":57},{"series":"AZ4A3A","g":2.043,"h":42},{"series":"AZ4A3A","g":2.04,"h":33},{"series":"AZ4A3A","g":2.037,"h":29},{"series":"AZ4A3A","g":2.034,"h":31},{"series":"AZ4A3A","g":2.03,"h":40},{"series":"AZ4A3A","g":2.025,"h":55},{"series":"AZ4A3A","g":2.02,"h":70},{"series":"AZ4A3A","g":2.015,"h":81},{"series":"AZ4A3A","g":2.01,"h":87.5},{"series":"AZ4A3A","g":2.005,"h":90},{"series":"AZ4A3A","g":2.0,"h":90.7},{"series":"AZ4A3A","g":1.95,"h":90.7},
      {"series":"AZ4A4A","g":2.4,"h":76.7},{"series":"AZ4A4A","g":2.37,"h":77},{"series":"AZ4A4A","g":2.345,"h":77.5},{"series":"AZ4A4A","g":2.33,"h":78.5},{"series":"AZ4A4A","g":2.318,"h":79.5},{"series":"AZ4A4A","g":2.305,"h":78.5},{"series":"AZ4A4A","g":2.295,"h":78},{"series":"AZ4A4A","g":2.282,"h":80},{"series":"AZ4A4A","g":2.27,"h":79},{"series":"AZ4A4A","g":2.255,"h":80.5},{"series":"AZ4A4A","g":2.242,"h":79.5},{"series":"AZ4A4A","g":2.228,"h":80.8},{"series":"AZ4A4A","g":2.215,"h":80},{"series":"AZ4A4A","g":2.2,"h":80.5},{"series":"AZ4A4A","g":2.18,"h":80.3},{"series":"AZ4A4A","g":2.16,"h":80.8},{"series":"AZ4A4A","g":2.14,"h":81.2},{"series":"AZ4A4A","g":2.12,"h":82},{"series":"AZ4A4A","g":2.105,"h":83.5},{"series":"AZ4A4A","g":2.095,"h":86},{"series":"AZ4A4A","g":2.087,"h":89.5},{"series":"AZ4A4A","g":2.08,"h":95},{"series":"AZ4A4A","g":2.074,"h":100.5},{"series":"AZ4A4A","g":2.07,"h":104},{"series":"AZ4A4A","g":2.066,"h":102.5},{"series":"AZ4A4A","g":2.062,"h":96},{"series":"AZ4A4A","g":2.058,"h":83},{"series":"AZ4A4A","g":2.054,"h":65},{"series":"AZ4A4A","g":2.05,"h":46},{"series":"AZ4A4A","g":2.046,"h":29},{"series":"AZ4A4A","g":2.042,"h":17},{"series":"AZ4A4A","g":2.039,"h":11.5},{"series":"AZ4A4A","g":2.037,"h":9.7},{"series":"AZ4A4A","g":2.034,"h":11.5},{"series":"AZ4A4A","g":2.03,"h":21},{"series":"AZ4A4A","g":2.025,"h":36},{"series":"AZ4A4A","g":2.02,"h":52},{"series":"AZ4A4A","g":2.015,"h":64},{"series":"AZ4A4A","g":2.01,"h":71},{"series":"AZ4A4A","g":2.005,"h":74},{"series":"AZ4A4A","g":2.0,"h":75},{"series":"AZ4A4A","g":1.95,"h":75}
    ],
    "none": []
  },
  "vconcat": [
    {
      "hconcat": [
        {"width": 1, "height": 1, "data": {"name": "none"}, "mark": "point"},
        {
          "title": {"text": "A", "anchor": "start", "frame": "bounds", "font": "Liberation Sans, DejaVu Sans", "fontSize": 20, "fontWeight": "normal", "color": "#000", "offset": 0, "dx": -9.3, "dy": 24},
          "width": 180, "height": 154,
          "data": {"name": "uvA"},
          "mark": {"type": "line"},
          "encoding": {
            "x": {"field": "nm", "type": "quantitative", "scale": {"domain": [400, 850], "nice": false, "zero": false}, "axis": {"values": [400, 500, 600, 700, 800], "format": "d", "title": "λ (nm)"}},
            "y": {"field": "eps", "type": "quantitative", "scale": {"domain": [0, 6], "nice": false}, "axis": {"values": [0, 1, 2, 3, 4, 5, 6], "format": ".1f", "title": "ε (mM⁻¹cm⁻¹)"}},
            "color": {"field": "series", "type": "nominal", "scale": {"domain": ["AZ", "AZ2G2G", "AZ2A2A", "AZ2V2V"], "range": ["#0a0ade", "#e619e6", "#333333", "#2ee62e"]}, "legend": {"legendX": 120, "legendY": 4.3, "symbolType": "M-2.3,0L2.3,0", "labelOffset": 7.2, "rowPadding": 6}}
          }
        },
        {
          "width": 178, "height": 154,
          "data": {"name": "uvB"},
          "mark": {"type": "line"},
          "encoding": {
            "x": {"field": "nm", "type": "quantitative", "scale": {"domain": [400, 850], "nice": false, "zero": false}, "axis": {"values": [400, 500, 600, 700, 800], "format": "d", "title": "λ (nm)"}},
            "y": {"field": "eps", "type": "quantitative", "scale": {"domain": [0, 6], "nice": false}, "axis": {"values": [0, 1, 2, 3, 4, 5, 6], "format": ".1f", "title": "ε (mM⁻¹cm⁻¹)", "titlePadding": 2}},
            "color": {"field": "series", "type": "nominal", "scale": {"domain": ["AZ", "AZ2A2A", "AZ3A3A", "AZ4A3A", "AZ4A4A"], "range": ["#0a0ade", "#333333", "#40e4ee", "#5a1a78", "#e01b1b"]}, "legend": {"legendX": 120.5, "legendY": 4.5, "symbolType": "M-2.4,0L2.4,0", "labelOffset": 7.5, "rowPadding": 3.5}}
          }
        }
      ],
      "spacing": 18,
      "resolve": {"scale": {"color": "independent"}, "legend": {"color": "independent"}}
    },
    {
      "hconcat": [
        {"width": 1, "height": 1, "data": {"name": "none"}, "mark": "point"},
        {
          "title": {"text": "B", "anchor": "start", "frame": "bounds", "font": "Liberation Sans, DejaVu Sans", "fontSize": 20, "fontWeight": "normal", "color": "#000", "offset": 0, "dx": 0, "dy": 26.5},
          "width": 191, "height": 168,
          "data": {"name": "eprA"},
          "mark": {"type": "line"},
          "encoding": {
            "x": {"field": "g", "type": "quantitative", "scale": {"domain": [1.95, 2.4], "reverse": true, "nice": false, "zero": false}, "axis": {"values": [2.35, 2.25, 2.15, 2.05, 1.95], "format": ".2f", "title": "g value", "labelFontSize": 10.5, "labelPadding": 19, "titlePadding": 7}},
            "y": {"field": "h", "type": "quantitative", "scale": {"domain": [0, 168], "nice": false}, "axis": {"labels": false, "ticks": false, "domain": false, "title": null, "minExtent": 34, "maxExtent": 34}},
            "color": {"field": "series", "type": "nominal", "scale": {"domain": ["AZ", "AZ2A2A", "AZ2G2G", "AZ2V2V"], "range": ["#0a0ade", "#333333", "#e619e6", "#2ee62e"]}, "legend": {"legendX": 6.8, "legendY": 128.4, "columns": 2, "columnPadding": 0, "symbolType": "M-2.47,0L2.47,0", "labelOffset": 7.5, "rowPadding": 1.9}}
          }
        },
        {
          "width": 181, "height": 168,
          "data": {"name": "eprB"},
          "mark": {"type": "line"},
          "encoding": {
            "x": {"field": "g", "type": "quantitative", "scale": {"domain": [1.95, 2.4], "reverse": true, "nice": false, "zero": false}, "axis": {"values": [2.35, 2.25, 2.15, 2.05, 1.95], "format": ".2f", "title": "g value", "labelFontSize": 10.5, "labelPadding": 19, "titlePadding": 7}},
            "y": {"field": "h", "type": "quantitative", "scale": {"domain": [0, 168], "nice": false}, "axis": {"labels": false, "ticks": false, "domain": false, "title": null, "minExtent": 24, "maxExtent": 24}},
            "color": {"field": "series", "type": "nominal", "scale": {"domain": ["AZ", "AZ3A3A", "AZ4A4A", "AZ2A2A", "AZ4A3A"], "range": ["#0a0ade", "#40e4ee", "#e01b1b", "#333333", "#5a1a78"]}, "legend": {"legendX": 5.2, "legendY": 114.8, "columns": 2, "columnPadding": -2, "symbolType": "M-2.47,0L2.47,0", "labelOffset": 6.2, "rowPadding": 2.3}}
          }
        }
      ],
      "spacing": 18,
      "resolve": {"scale": {"color": "independent"}, "legend": {"color": "independent"}}
    }
  ]
}
